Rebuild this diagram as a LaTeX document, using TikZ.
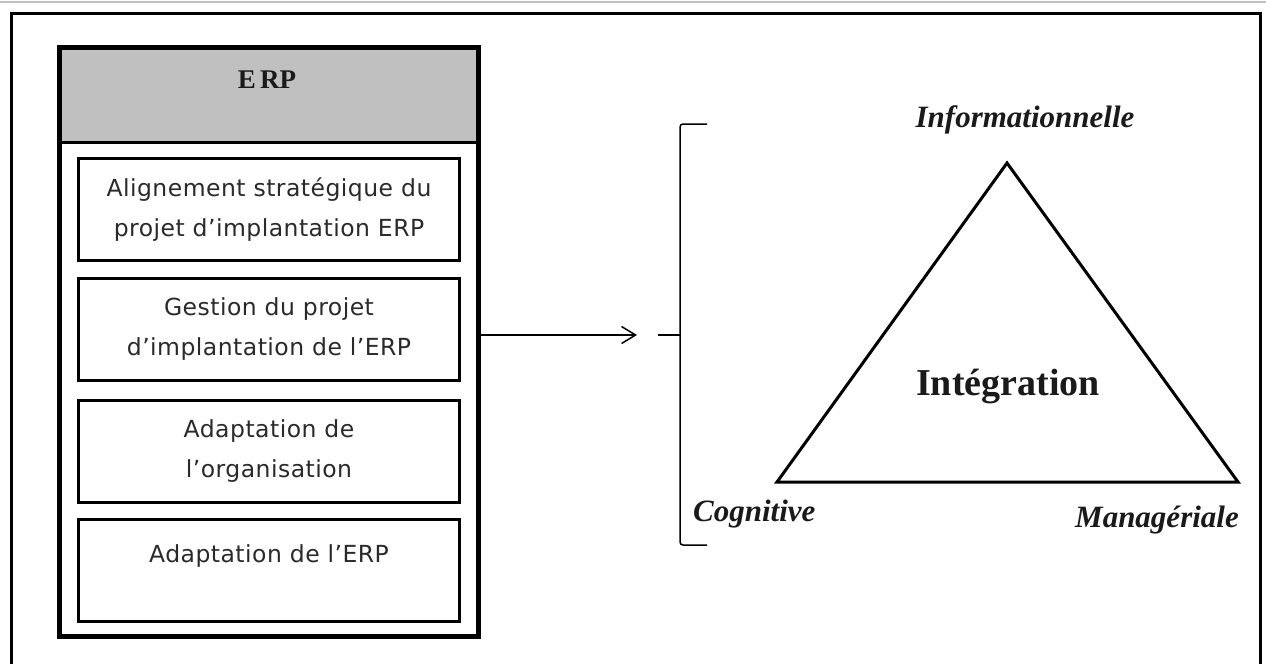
\documentclass[tikz,border=0pt]{standalone}
\usepackage{fontspec}
\setmainfont{Liberation Serif}
\newfontfamily\boxfont{DejaVu Sans}[LetterSpace=2]
\usetikzlibrary{arrows.meta,calc}
\definecolor{headgray}{HTML}{C0C0C0}
\definecolor{boxtext}{HTML}{2A2A2A}
\definecolor{inktext}{HTML}{1A1A1A}
\begin{document}
\begin{tikzpicture}[x=1pt,y=-1pt,
  frame/.style={line width=3pt,line join=miter},
  itembox/.style={draw,line width=3pt,rectangle,inner sep=0pt,outer sep=0pt,
    minimum width=381pt,minimum height=102pt,align=center,text=boxtext,
    font=\boxfont\fontsize{23.5}{40}\selectfont},
  corner/.style={font=\bfseries\itshape\fontsize{31}{36}\selectfont,text=inktext,inner sep=0pt},
  thin/.style={line width=1.5pt}]
\useasboundingbox (0,0) rectangle (1266,664);
\fill[white] (0,0) rectangle (1266,664);

% thin rule along the top edge
\draw[line width=2pt,black!25] (0,2) -- (1266,2);

% outer frame, open at the bottom
\draw[frame] (11.5,664) -- (11.5,13.5) -- (1260,13.5) -- (1260,664);

% ERP column
\node[rectangle,inner sep=0pt,outer sep=0pt,minimum width=419pt,minimum height=589pt]
  (erp) at (268.5,341.5) {};
\fill[headgray] (erp.north west) rectangle (478,142);
\draw[line width=3pt] (59,142) -- (478,142);
\draw[line width=5pt] (erp.north west) rectangle (erp.south east);
\node[font=\bfseries\fontsize{27}{30}\selectfont,text=inktext] (title) at (267,80) {E\,RP};

\node[itembox] (b1) at (269,209.5) {Alignement stratégique du\\projet d’implantation ERP};
\node[itembox] (b2) at (269,329) {Gestion du projet\\d’implantation de l’ERP};
\node[itembox] (b3) at (269,451) {Adaptation de\\l’organisation};
\node[itembox,text depth=32pt] (b4) at (269,570) {Adaptation de l’ERP};

% bracket gathering the three dimensions
\coordinate (br) at (680,335);
\coordinate (tip) at (637,335);
\draw[thin,rounded corners=3pt] (707,124) -- (680,124) -- (680,545) -- (707,545);
\draw[thin] ($(br)+(-22,0)$) -- (br);

% arrow from the ERP column
\draw[thin,-{Straight Barb[length=14pt,width=17pt,line width=1.5pt]}] (tip -| erp.east) -- (tip);

% integration triangle
\coordinate (top) at (1007,163);
\coordinate (bl) at (777,482);
\coordinate (brc) at (1238,482);
\draw[line width=3pt,line join=miter] (top) -- (brc) -- (bl) -- cycle;
\node[font=\bfseries\fontsize{38}{42}\selectfont,text=inktext] (integ) at (1008,386) {Intégration};

\node[corner,anchor=base] (info) at (1025,127) {Informationnelle};
\node[corner,anchor=base west] (cog) at (693,521) {Cognitive};
\node[corner,anchor=base east] (man) at (1239,527) {Managériale};
\end{tikzpicture}
\end{document}
